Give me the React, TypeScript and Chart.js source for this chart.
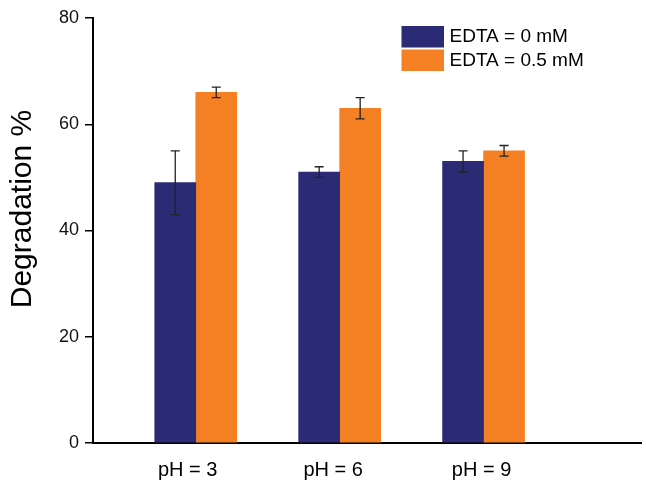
import React, { useEffect, useRef } from "react";
import { Chart, registerables } from "chart.js";

Chart.register(...registerables);

// ---- data ----
const categories = ["pH = 3", "pH = 6", "pH = 9"];
const categoryPositions = [1, 2, 3];
const labelPositions = [0.944, 1.955, 2.986];
const seriesLabels = ["EDTA = 0 mM", "EDTA = 0.5 mM"];
const edta0 = [49, 51, 53];
const edta0Err = [6, 1, 2];
const edta05 = [66, 63, 55];
const edta05Err = [1, 2, 1];
const yTicks = [0, 20, 40, 60, 80];
const yTitle = "Degradation %";

const NAVY = "#2B2A74";
const ORANGE = "#F58023";
const FONT = "'Liberation Sans', Arial, Helvetica, sans-serif";

const errorBarPlugin = {
  id: "errorBars",
  afterDatasetsDraw(chart: any) {
    const ctx = chart.ctx;
    const yScale = chart.scales.y;
    chart.data.datasets.forEach((ds: any, di: number) => {
      const meta = chart.getDatasetMeta(di);
      meta.data.forEach((el: any, i: number) => {
        const v = ds.data[i].y;
        const e = ds.errors[i];
        const x = el.x;
        const yHi = yScale.getPixelForValue(v + e);
        const yLo = yScale.getPixelForValue(v - e);
        ctx.save();
        ctx.strokeStyle = "#222222";
        ctx.lineWidth = 1.3;
        ctx.beginPath();
        ctx.moveTo(x, yHi);
        ctx.lineTo(x, yLo);
        ctx.moveTo(x - 4.5, yHi);
        ctx.lineTo(x + 4.5, yHi);
        ctx.moveTo(x - 4.5, yLo);
        ctx.lineTo(x + 4.5, yLo);
        ctx.stroke();
        ctx.restore();
      });
    });
  },
};

const extrasPlugin = {
  id: "extras",
  afterDraw(chart: any) {
    const ctx = chart.ctx;
    // y-axis title
    ctx.save();
    ctx.translate(23, 209);
    ctx.rotate(-Math.PI / 2);
    ctx.font = `30px ${FONT}`;
    ctx.fillStyle = "#000";
    ctx.textAlign = "center";
    ctx.textBaseline = "middle";
    ctx.fillText(yTitle, 0, 0);
    ctx.restore();

    // legend
    const bx = 401.5;
    const by = 26;
    const bw = 42.5;
    const bh = 21.5;
    const step = 23.5;
    chart.data.datasets.forEach((ds: any, i: number) => {
      const y = by + i * step;
      ctx.save();
      ctx.fillStyle = ds.backgroundColor;
      ctx.fillRect(bx, y, bw, bh);
      ctx.font = `19px ${FONT}`;
      ctx.fillStyle = "#000";
      ctx.textAlign = "left";
      ctx.textBaseline = "middle";
      ctx.fillText(ds.label, bx + bw + 5.5, y + bh / 2 + 0.5);
      ctx.restore();
    });
  },
};

export default function App() {
  const canvasRef = useRef<HTMLCanvasElement | null>(null);

  useEffect(() => {
    document.body.style.margin = "0";
    const canvas = canvasRef.current;
    if (!canvas) return;
    const chart = new Chart(canvas, {
      type: "bar",
      data: {
        datasets: [
          {
            label: seriesLabels[0],
            data: categoryPositions.map((x, i) => ({ x, y: edta0[i] })),
            errors: edta0Err,
            backgroundColor: NAVY,
            borderWidth: 0,
            barThickness: 41,
          } as any,
          {
            label: seriesLabels[1],
            data: categoryPositions.map((x, i) => ({ x, y: edta05[i] })),
            errors: edta05Err,
            backgroundColor: ORANGE,
            borderWidth: 0,
            barThickness: 41,
          } as any,
        ],
      },
      options: {
        responsive: false,
        animation: false,
        layout: { padding: { top: 18, right: 5, left: 0, bottom: 0 } },
        plugins: {
          legend: { display: false },
          tooltip: { enabled: false },
          title: { display: false },
        },
        scales: {
          x: {
            type: "linear",
            min: 0.286,
            max: 4.094,
            offset: false,
            afterBuildTicks: (scale: any) => {
              scale.ticks = labelPositions.map((v) => ({ value: v }));
            },
            afterFit: (scale: any) => {
              scale.height = 42;
            },
            grid: { display: false, drawTicks: false },
            border: { display: true, color: "#000", width: 2 },
            ticks: {
              autoSkip: false,
              maxRotation: 0,
              padding: 15,
              color: "#000",
              font: { size: 20, family: FONT },
              callback: (_v: any, index: number) => categories[index],
            },
          },
          y: {
            type: "linear",
            min: 0,
            max: 80,
            afterBuildTicks: (scale: any) => {
              scale.ticks = yTicks.map((v) => ({ value: v }));
            },
            afterFit: (scale: any) => {
              scale.width = 93;
            },
            grid: {
              display: true,
              drawOnChartArea: false,
              drawTicks: true,
              tickLength: 8,
              color: "#000",
              lineWidth: 1.5,
            },
            border: { display: true, color: "#000", width: 2 },
            ticks: {
              padding: 6,
              color: "#111",
              font: { size: 18, family: FONT },
            },
          },
        },
      } as any,
      plugins: [errorBarPlugin, extrasPlugin],
    });
    return () => chart.destroy();
  }, []);

  return (
    <div style={{ width: 646, height: 485, background: "#fff" }}>
      <canvas
        ref={canvasRef}
        width={646}
        height={485}
        style={{ display: "block", width: 646, height: 485 }}
      />
    </div>
  );
}
